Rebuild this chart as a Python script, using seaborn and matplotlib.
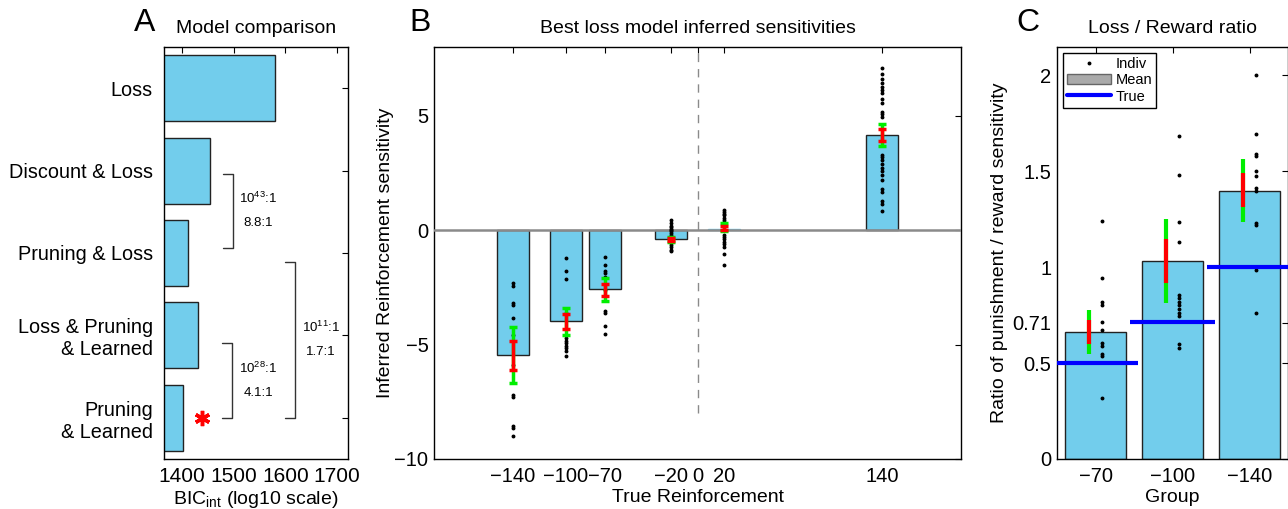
import numpy as np
import pandas as pd
import matplotlib
matplotlib.use('Agg')
import matplotlib.pyplot as plt
import seaborn as sns
from matplotlib.lines import Line2D
from matplotlib.patches import Patch

# ---- data ----
# A: model comparison
models = ['Loss', 'Discount & Loss', 'Pruning & Loss',
          'Loss & Pruning\n& Learned', 'Pruning\n& Learned']
bic_int = [1579, 1454, 1412, 1430, 1401]
best_model = 'Pruning\n& Learned'
# brackets: (y top, y bottom, x left, x right, text x, line 1, line 2)
brackets = [
    (1.04, 1.94, 1480, 1499, 1547, '10$^{43}$:1', '8.8:1'),
    (3.09, 4.00, 1478, 1497, 1547, '10$^{28}$:1', '4.1:1'),
    (2.11, 4.00, 1600, 1619, 1668, '10$^{11}$:1', '1.7:1'),
]

# B: inferred sensitivities
reinf = [-140, -100, -70, -20, 20, 140]
sens_mean = [-5.45, -3.98, -2.59, -0.41, 0.07, 4.14]
sem_lo = [-6.09, -4.30, -2.86, -0.48, 0.00, 3.91]
sem_hi = [-4.83, -3.66, -2.34, -0.33, 0.20, 4.42]
ci_lo = [-6.70, -4.59, -3.11, -0.54, -0.06, 3.68]
ci_hi = [-4.23, -3.39, -2.08, -0.28, 0.29, 4.64]
indiv_m140 = [-2.32, -2.43, -3.19, -3.29, -3.84, -4.6, -5.9, -7.22, -7.27, -8.55, -8.65, -8.99]
indiv_m100 = [-1.23, -1.78, -2.13, -3.6, -4.7, -4.85, -4.95, -5.05, -5.15, -5.3, -5.48]
indiv_m70 = [-1.16, -1.52, -1.77, -1.88, -2.05, -2.6, -3.52, -3.62, -4.17, -4.54]
indiv_m20 = [0.42, 0.3, 0.2, 0.12, 0.05, 0.0, -0.05, -0.12, -0.2, -0.3,
             -0.45, -0.55, -0.65, -0.75, -0.85, -0.92]
indiv_p20 = [0.89, 0.8, 0.72, 0.65, 0.55, 0.45, 0.35, 0.2, -0.2, -0.3, -0.4,
             -0.5, -0.6, -0.75, -1.05, -1.51]
indiv_p140 = [7.07, 6.84, 6.62, 6.42, 6.26, 6.12, 6.0, 5.73, 5.54, 5.17, 5.07, 4.96,
              3.29, 3.19, 3.07, 2.9, 2.73, 2.58, 2.41, 2.17, 1.80, 1.67, 1.27, 1.16, 0.84]
indiv_b = [indiv_m140, indiv_m100, indiv_m70, indiv_m20, indiv_p20, indiv_p140]

# C: loss / reward ratio
groups = ['\u221270', '\u2212100', '\u2212140']
ratio_mean = [0.661, 1.03, 1.398]
ratio_true = [0.5, 0.714, 1.0]
r_sem_lo = [0.599, 0.915, 1.311]
r_sem_hi = [0.726, 1.146, 1.488]
r_ci_lo = [0.547, 0.811, 1.233]
r_ci_hi = [0.778, 1.248, 1.562]
ratio_m70 = [1.238, 0.943, 0.816, 0.804, 0.712, 0.674, 0.604, 0.590, 0.547, 0.535, 0.318]
ratio_m100 = [1.684, 1.481, 1.233, 1.128, 0.856, 0.84, 0.82, 0.80, 0.78, 0.76, 0.743, 0.599, 0.578]
ratio_m140 = [2.0, 1.693, 1.59, 1.576, 1.498, 1.472, 1.41, 1.396, 1.229, 1.22, 0.986, 0.76]
ratio_indiv = [ratio_m70, ratio_m100, ratio_m140]

# ---- style ----
sns.set_style('white')
plt.rcParams['font.family'] = ['Liberation Sans', 'DejaVu Sans']
plt.rcParams['mathtext.default'] = 'regular'
plt.rcParams['font.size'] = 14
plt.rcParams['text.color'] = 'black'
plt.rcParams['axes.labelcolor'] = 'black'
bar_color = '#72CDEC'
edge = '#222222'
tick_fs = 14.5
label_fs = 14
dot_ms = 1.8

fig = plt.figure(figsize=(12.88, 5.09), dpi=100)
axA = fig.add_axes([164 / 1288, 50 / 509, 184 / 1288, 412 / 509])
axB = fig.add_axes([434 / 1288, 50 / 509, 527 / 1288, 412 / 509])
axC = fig.add_axes([1057 / 1288, 50 / 509, 231 / 1288, 412 / 509])

for ax in (axA, axB, axC):
    ax.tick_params(direction='in', top=True, right=True, length=4, width=0.8,
                   labelsize=tick_fs, colors='black')
    for s in ax.spines.values():
        s.set_color('black')
        s.set_linewidth(1)

# ---- A ----
dfa = pd.DataFrame({'model': models, 'bic': bic_int})
sns.barplot(data=dfa, x='bic', y='model', orient='h', color=bar_color, saturation=1,
            edgecolor=edge, linewidth=1, width=0.8, errorbar=None, ax=axA)
axA.set_xlim(1365, 1721)
axA.set_ylim(4.5, -0.5)
axA.set_xticks([1400, 1500, 1600, 1700])
axA.set_ylabel('')
axA.set_xlabel('BIC$_{int}$ (log10 scale)', fontsize=label_fs, labelpad=2)
axA.tick_params(axis='y', pad=8, labelsize=14.3)
axA.tick_params(axis='x', pad=6, labelsize=15)
for t in axA.get_yticklabels():
    t.set_multialignment('right')
for y0, y1, xl, xr, tx, l1, l2 in brackets:
    axA.plot([xl, xr, xr, xl], [y0, y0, y1, y1], color='#333333', lw=1)
    ym = (y0 + y1) / 2
    axA.text(tx, ym - 0.15, l1, ha='center', va='center', fontsize=9.5)
    axA.text(tx, ym + 0.15, l2, ha='center', va='center', fontsize=9.5)
axA.plot([1439], [models.index(best_model)], marker=(6, 2, 0), color='red',
         ms=11, mew=2.5, ls='none')
axA.set_title('Model comparison', fontsize=14, pad=10)

# ---- B ----
dfb = pd.DataFrame({'reinf': reinf, 'sens': sens_mean})
sns.barplot(data=dfb, x='reinf', y='sens', native_scale=True, width=0.8,
            color=bar_color, saturation=1, edgecolor=edge, linewidth=1,
            errorbar=None, ax=axB)
for p in axB.patches:
    if abs(p.get_height()) < 0.2:
        p.set_edgecolor(bar_color)
axB.axhline(0, color='#8a8a8a', lw=1.8, zorder=3)
axB.vlines(0, -8, 8, color='#8a8a8a', lw=1, linestyles=(0, (6, 5)), zorder=1)
for x, vals in zip(reinf, indiv_b):
    axB.plot([x] * len(vals), vals, 'o', color='black', ms=dot_ms, zorder=4)
c = (np.array(ci_lo) + np.array(ci_hi)) / 2
axB.errorbar(reinf, c, yerr=(np.array(ci_hi) - np.array(ci_lo)) / 2, fmt='none',
             ecolor='#00EE00', elinewidth=2.5, capsize=3, capthick=2.5, zorder=5)
c = (np.array(sem_lo) + np.array(sem_hi)) / 2
axB.errorbar(reinf, c, yerr=(np.array(sem_hi) - np.array(sem_lo)) / 2, fmt='none',
             ecolor='#FF0000', elinewidth=2.5, capsize=3, capthick=2.5, zorder=6)
axB.set_xlim(-200, 200)
axB.set_ylim(-10, 8)
axB.set_xticks([-140, -100, -70, -20, 0, 20, 140])
axB.set_xticklabels(['\u2212140', '\u2212100', '\u221270', '\u221220', '0', '20', '140'])
axB.set_yticks([-10, -5, 0, 5])
axB.tick_params(axis='y', pad=4)
axB.tick_params(axis='x', pad=6)
axB.set_xlabel('True Reinforcement', fontsize=label_fs, labelpad=2)
axB.set_ylabel('Inferred Reinforcement sensitivity', fontsize=label_fs, labelpad=0)
axB.set_title('Best loss model inferred sensitivities', fontsize=14, pad=10)

# ---- C ----
dfc = pd.DataFrame({'group': groups, 'ratio': ratio_mean})
sns.barplot(data=dfc, x='group', y='ratio', order=groups, width=0.8, color=bar_color,
            saturation=1, edgecolor=edge, linewidth=1, errorbar=None, ax=axC)
for i, (m, tv) in enumerate(zip(ratio_mean, ratio_true)):
    axC.hlines(tv, i - 0.55, i + 0.55, color='#0000FF', lw=3, zorder=5)
    axC.vlines(i - 0.08, r_ci_lo[i], r_ci_hi[i], color='#00EE00', lw=3, zorder=4)
    axC.vlines(i - 0.08, r_sem_lo[i], r_sem_hi[i], color='#FF0000', lw=3, zorder=4)
    vals = ratio_indiv[i]
    axC.plot([i + 0.08] * len(vals), vals, 'o', color='black', ms=dot_ms, zorder=4)
axC.set_xlim(-0.5, 2.5)
axC.set_ylim(0, 2.146)
axC.set_yticks([0, 0.5, 0.71, 1, 1.5, 2])
axC.set_yticklabels(['0', '0.5', '0.71', '1', '1.5', '2'])
axC.tick_params(axis='y', pad=4)
axC.tick_params(axis='x', pad=6)
axC.set_xlabel('Group', fontsize=label_fs, labelpad=2)
axC.set_ylabel('Ratio of punishment / reward sensitivity', fontsize=label_fs, labelpad=3)
axC.set_title('Loss / Reward ratio', fontsize=14, pad=10)
handles = [Line2D([], [], marker='o', ms=dot_ms, color='black', ls='none'),
           Patch(facecolor='#aaaaaa', edgecolor='#666666'),
           Line2D([], [], color='#0000FF', lw=3)]
leg = axC.legend(handles, ['Indiv', 'Mean', 'True'], loc='upper left', fontsize=10.5,
                 frameon=True, fancybox=False, edgecolor='black', framealpha=1,
                 handlelength=3, handletextpad=0.3, borderpad=0.3, labelspacing=0.15,
                 borderaxespad=0.4)
leg.get_frame().set_linewidth(1)

# panel letters
fig.text(145 / 1288, 1 - 23 / 509, 'A', fontsize=23, ha='center', va='center')
fig.text(420 / 1288, 1 - 23 / 509, 'B', fontsize=23, ha='center', va='center')
fig.text(1028 / 1288, 1 - 23 / 509, 'C', fontsize=23, ha='center', va='center')

fig.savefig('out.png', dpi=100)
